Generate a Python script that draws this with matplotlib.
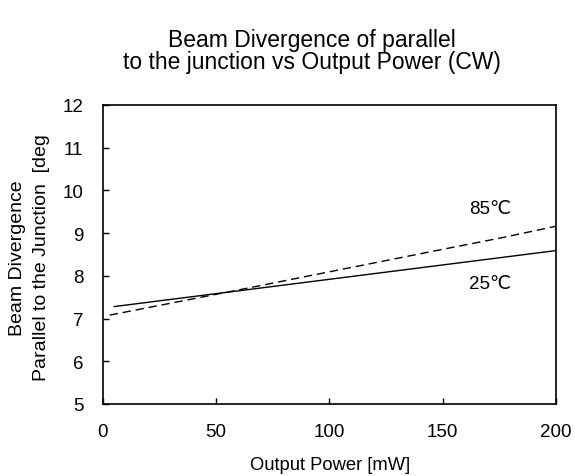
import numpy as np
import matplotlib.pyplot as plt

plt.rcParams['font.family'] = ['Liberation Sans', 'DejaVu Sans']

# 25C: straight line
power_25 = [5, 200]
div_25 = [7.28, 8.59]

# 85C: dashed, slight kinks
power_85 = [3, 59, 111, 150, 176, 200]
div_85 = [7.08, 7.66, 8.21, 8.62, 8.89, 9.16]

x_ticks = [0, 50, 100, 150, 200]
y_ticks = [5, 6, 7, 8, 9, 10, 11, 12]

fig = plt.figure(figsize=(5.75, 4.77), dpi=100)
ax = fig.add_axes([0.179, 0.151, 0.788, 0.627])

ax.plot(power_25, div_25, color='black', linewidth=1.0)
ax.plot(power_85, div_85, color='black', linewidth=1.0, linestyle=(0, (6, 3.5)))

ax.set_xlim(0, 200)
ax.set_ylim(5, 12)
ax.set_xticks(x_ticks)
ax.set_yticks(y_ticks)
ax.tick_params(direction='in', length=4, width=1, labelsize=13.5, pad=14)
for s in ax.spines.values():
    s.set_linewidth(1.2)

ax.text(171, 9.585, '85\u2103', fontsize=13.5, ha='center', va='center')
ax.text(171, 7.81, '25\u2103', fontsize=13.5, ha='center', va='center')

fig.text(312 / 575, 1 - 41 / 477, 'Beam Divergence of parallel', fontsize=16.5, ha='center', va='center')
fig.text(312 / 575, 1 - 63 / 477, 'to the junction vs Output Power (CW)', fontsize=16.5, ha='center', va='center')

fig.text(330 / 575, 1 - 466 / 477, 'Output Power [mW]', fontsize=13.2, ha='center', va='center')
fig.text(18 / 575, 1 - 258 / 477, 'Beam Divergence', fontsize=14, rotation=90, ha='center', va='center')
fig.text(42 / 575, 1 - 258 / 477, 'Parallel to the Junction  [deg', fontsize=14, rotation=90, ha='center', va='center')

fig.savefig('out.png', dpi=100)
